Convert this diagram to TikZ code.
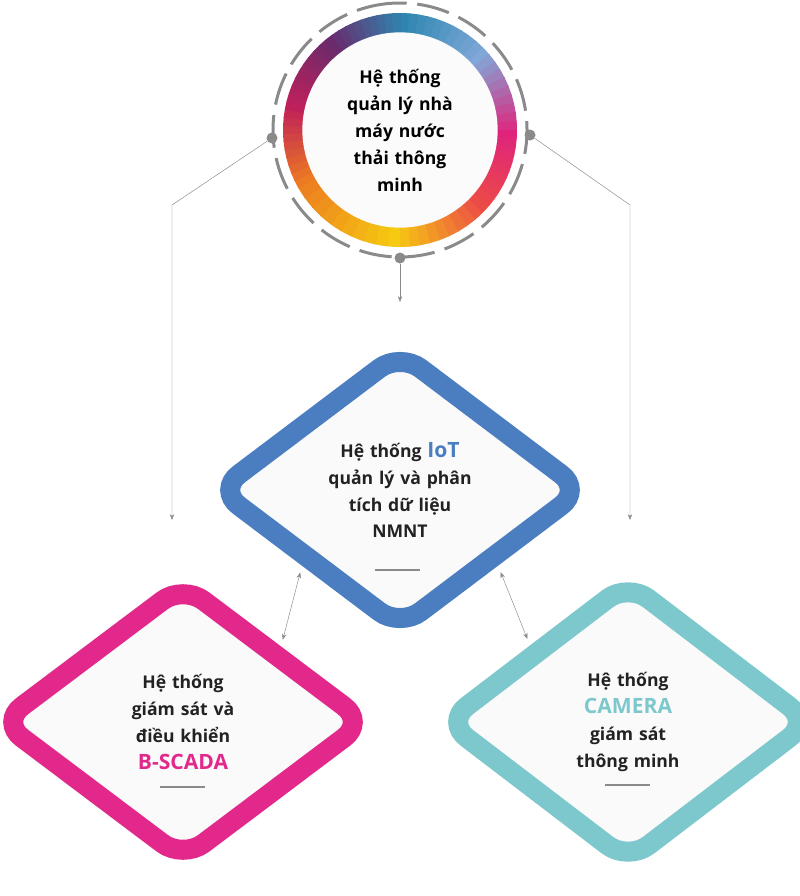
\documentclass[tikz,border=0pt]{standalone}
\usepackage{fontspec}
\setmainfont{Open Sans}
\usetikzlibrary{shapes.geometric, arrows.meta, positioning, calc}
\definecolor{iotblue}{HTML}{4A7EC0}
\definecolor{scadapink}{HTML}{E2288A}
\definecolor{camteal}{HTML}{7CC8CC}
\definecolor{linegray}{HTML}{8A8A8A}
\definecolor{txtgray}{HTML}{222222}
\definecolor{ring1}{HTML}{2E86B0}
\definecolor{ring2}{HTML}{7FA8D8}
\definecolor{ring3}{HTML}{E0247C}
\definecolor{ring4}{HTML}{EC4A48}
\definecolor{ring5}{HTML}{F6CA10}
\definecolor{ring6}{HTML}{EC7A22}
\definecolor{ring7}{HTML}{C0205A}
\definecolor{ring8}{HTML}{6A2A6C}
\tikzset{
  box/.style={diamond, aspect=1, rounded corners=22pt, line width=20*0.3mm, fill=gray!4,
    minimum width=372*0.3mm, inner sep=0pt, text width=5.6cm, align=center,
    font=\bfseries\fontsize{15}{23}\selectfont, text=txtgray},
  dot/.style={circle, fill=linegray, minimum size=11*0.3mm, inner sep=0pt},
  link/.style={linegray, line width=0.4pt, -{Stealth[length=5pt]}},
  twoway/.style={linegray, line width=0.4pt, {Stealth[length=5pt]}-{Stealth[length=5pt]}, shorten <=6pt, shorten >=6pt},
  bar/.style={linegray, line width=1.2pt}
}
\begin{document}
\begin{tikzpicture}[x=0.3mm, y=-0.3mm]
    \useasboundingbox (0,0) rectangle (800,896);

    % Top: gradient ring
    \coordinate (hub) at (400,130);
    \begin{scope}[x=0.3mm, y=0.3mm, shift={(400,-130)}]
    \foreach \a/\b/\ca/\cb in {90/45/ring1/ring2, 45/0/ring2/ring3, 0/-40/ring3/ring4,
        -40/-90/ring4/ring5, -90/-150/ring5/ring6, -150/-190/ring6/ring7,
        -190/-230/ring7/ring8, -230/-270/ring8/ring1}{
      \foreach \i in {0,...,9}{
        \pgfmathsetmacro{\sa}{\a+(\b-\a)*\i/10}
        \pgfmathsetmacro{\sb}{\a+(\b-\a)*(\i+1.15)/10}
        \pgfmathsetmacro{\pc}{100-\i*10}
        \fill[\ca!\pc!\cb] (\sa:96) arc[start angle=\sa, end angle=\sb, radius=96]
          -- (\sb:117) arc[start angle=\sb, end angle=\sa, radius=117] -- cycle;
      }
    }
    \draw[linegray, line width=3*0.3mm, dash pattern=on 28pt off 9pt] (95:127) arc[start angle=95, end angle=455, radius=127];
    \end{scope}
    \node (main) [circle, fill=gray!3, minimum size=194*0.3mm, inner sep=0pt, text width=4.6cm, align=center,
      font=\bfseries\fontsize{15}{23}\selectfont, text=black] at (hub)
      {Hệ thống\\quản lý nhà\\máy nước\\thải thông\\minh};

    % Dots on the dashed ring
    \node (dl) [dot] at (272,138) {};
    \node (dr) [dot] at (530,135) {};
    \node (db) [dot] at (400,258) {};

    % Diamonds
    \node (iot) [box, draw=iotblue] at (400,490)
      {Hệ thống {\color{iotblue}\fontsize{18}{23}\selectfont IoT}\\quản lý và phân\\tích dữ liệu\\NMNT};
    \node (scada) [box, draw=scadapink] at (183,722)
      {Hệ thống\\giám sát và\\điều khiển\\{\color{scadapink}\fontsize{18}{23}\selectfont B-SCADA}};
    \node (cam) [box, draw=camteal] at (628,722)
      {Hệ thống\\{\color{camteal}\fontsize{18}{23}\selectfont CAMERA}\\giám sát\\thông minh};

    % Underline bars
    \draw[bar] (375,570) -- (420,570);
    \draw[bar] (160,787) -- (205,787);
    \draw[bar] (605,785) -- (650,785);

    % Connectors
    \coordinate (kl) at (172,205);
    \coordinate (kr) at (630,205);
    \coordinate (el) at (172,520);
    \coordinate (er) at (630,520);
    \coordinate (eb) at (400,302);
    \draw [link] (dl) -- (kl) -- (el);
    \draw [link] (dr) -- (kr) -- (er);
    \draw [link] (db) -- (eb);
    \draw [twoway] (scada.north east) -- (iot.south west);
    \draw [twoway] (iot.south east) -- (cam.north west);
\end{tikzpicture}
\end{document}
